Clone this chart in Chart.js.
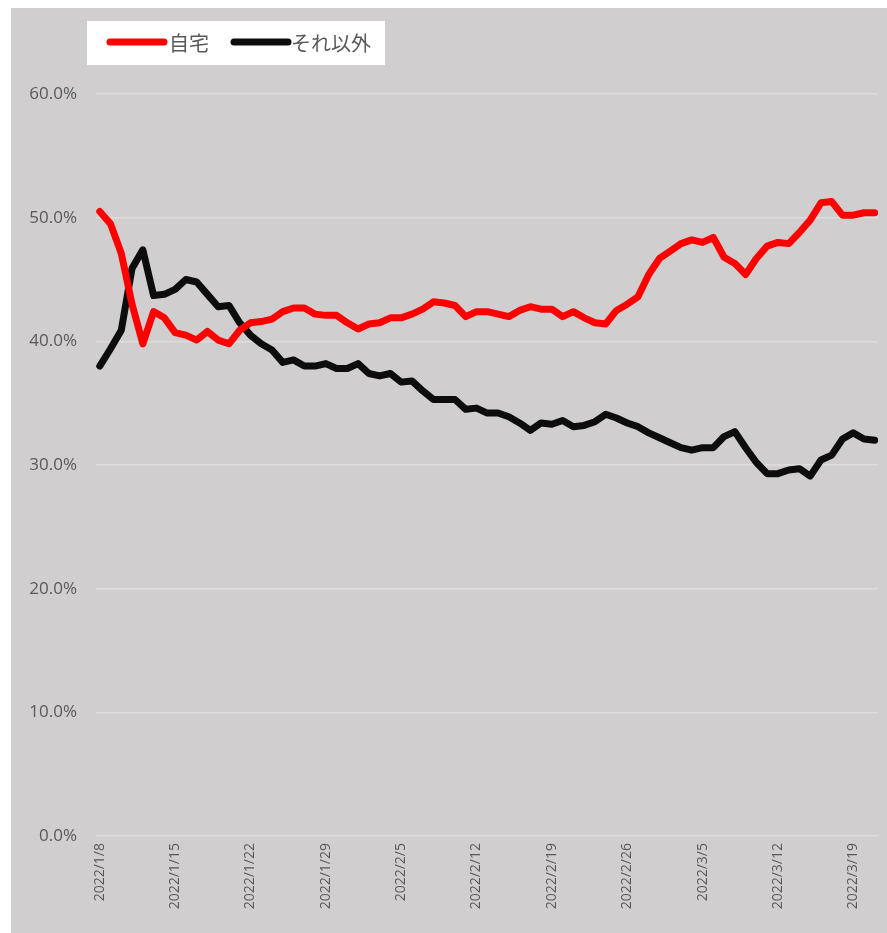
<!DOCTYPE html>
<html>
<head>
<meta charset="utf-8">
<script src="https://cdn.jsdelivr.net/npm/chart.js@4"></script>
<style>
  html, body { margin: 0; padding: 0; background: #ffffff; }
  #wrap { width: 887px; height: 933px; }
</style>
</head>
<body>
<div id="wrap"><canvas id="chart" width="887" height="933"></canvas></div>
<script>
const dates = [
  '2022/1/8','2022/1/9','2022/1/10','2022/1/11','2022/1/12','2022/1/13','2022/1/14',
  '2022/1/15','2022/1/16','2022/1/17','2022/1/18','2022/1/19','2022/1/20','2022/1/21',
  '2022/1/22','2022/1/23','2022/1/24','2022/1/25','2022/1/26','2022/1/27','2022/1/28',
  '2022/1/29','2022/1/30','2022/1/31','2022/2/1','2022/2/2','2022/2/3','2022/2/4',
  '2022/2/5','2022/2/6','2022/2/7','2022/2/8','2022/2/9','2022/2/10','2022/2/11',
  '2022/2/12','2022/2/13','2022/2/14','2022/2/15','2022/2/16','2022/2/17','2022/2/18',
  '2022/2/19','2022/2/20','2022/2/21','2022/2/22','2022/2/23','2022/2/24','2022/2/25',
  '2022/2/26','2022/2/27','2022/2/28','2022/3/1','2022/3/2','2022/3/3','2022/3/4',
  '2022/3/5','2022/3/6','2022/3/7','2022/3/8','2022/3/9','2022/3/10','2022/3/11',
  '2022/3/12','2022/3/13','2022/3/14','2022/3/15','2022/3/16','2022/3/17','2022/3/18',
  '2022/3/19','2022/3/20','2022/3/21'
];

// 自宅 (%)
const jitaku = [
  50.5, 49.5, 47.1, 43.0, 39.8, 42.4, 41.9, 40.7, 40.5, 40.1,
  40.8, 40.1, 39.8, 40.9, 41.5, 41.6, 41.8, 42.4, 42.7, 42.7,
  42.2, 42.1, 42.1, 41.5, 41.0, 41.4, 41.5, 41.9, 41.9, 42.2,
  42.6, 43.2, 43.1, 42.9, 42.0, 42.4, 42.4, 42.2, 42.0, 42.5,
  42.8, 42.6, 42.6, 42.0, 42.4, 41.9, 41.5, 41.4, 42.5, 43.0,
  43.6, 45.4, 46.7, 47.3, 47.9, 48.2, 48.0, 48.4, 46.8, 46.3,
  45.4, 46.7, 47.7, 48.0, 47.9, 48.8, 49.8, 51.2, 51.3, 50.2,
  50.2, 50.4, 50.4
];

// それ以外 (%)
const sorelgai = [
  38.0, 39.4, 40.9, 45.9, 47.4, 43.7, 43.8, 44.2, 45.0, 44.8,
  43.8, 42.8, 42.9, 41.5, 40.5, 39.8, 39.3, 38.3, 38.5, 38.0,
  38.0, 38.2, 37.8, 37.8, 38.2, 37.4, 37.2, 37.4, 36.7, 36.8,
  36.0, 35.3, 35.3, 35.3, 34.5, 34.6, 34.2, 34.2, 33.9, 33.4,
  32.8, 33.4, 33.3, 33.6, 33.1, 33.2, 33.5, 34.1, 33.8, 33.4,
  33.1, 32.6, 32.2, 31.8, 31.4, 31.2, 31.4, 31.4, 32.3, 32.7,
  31.4, 30.2, 29.3, 29.3, 29.6, 29.7, 29.1, 30.4, 30.8, 32.1,
  32.6, 32.1, 32.0
];

const seriesNames = ['自宅', 'それ以外'];
const seriesColors = ['#ff0000', '#0d0d0d'];

const textColor = '#595959';
const gridColor = '#dedcdc';
const bgGray = '#d0cece';

const toXY = arr => arr.map((v, i) => ({ x: i, y: v }));

const bgPlugin = {
  id: 'bgGray',
  beforeDraw(chart) {
    const ctx = chart.ctx;
    ctx.save();
    ctx.fillStyle = bgGray;
    ctx.fillRect(11, 8, chart.width - 11, chart.height - 8);
    ctx.restore();
  }
};

// white legend box in the top-left, like the original
const legendBoxPlugin = {
  id: 'legendBox',
  afterDraw(chart) {
    const ctx = chart.ctx;
    ctx.save();
    ctx.fillStyle = '#ffffff';
    ctx.fillRect(87, 21, 298, 44);
    const items = [
      { x1: 110, x2: 164, tx: 169 },
      { x1: 234, x2: 288, tx: 291 }
    ];
    ctx.lineCap = 'round';
    ctx.lineWidth = 7;
    ctx.font = '20px "Noto Sans CJK JP", "Noto Sans", sans-serif';
    ctx.textBaseline = 'middle';
    items.forEach((it, k) => {
      ctx.strokeStyle = seriesColors[k];
      ctx.beginPath();
      ctx.moveTo(it.x1, 42);
      ctx.lineTo(it.x2, 42);
      ctx.stroke();
      ctx.fillStyle = textColor;
      ctx.fillText(seriesNames[k], it.tx, 43);
    });
    ctx.restore();
  }
};

new Chart(document.getElementById('chart'), {
  type: 'line',
  data: {
    datasets: [
      { label: seriesNames[0], data: toXY(jitaku), borderColor: seriesColors[0], backgroundColor: seriesColors[0] },
      { label: seriesNames[1], data: toXY(sorelgai), borderColor: seriesColors[1], backgroundColor: seriesColors[1] }
    ]
  },
  options: {
    responsive: false,
    animation: false,
    layout: { padding: { left: 0, right: 9, top: 94, bottom: 0 } },
    elements: {
      line: { borderWidth: 7, tension: 0, borderCapStyle: 'round', borderJoinStyle: 'round' },
      point: { radius: 0, hoverRadius: 0 }
    },
    plugins: {
      legend: { display: false },
      tooltip: { enabled: false }
    },
    scales: {
      x: {
        type: 'linear',
        min: -0.35,
        max: 72.3,
        grid: { display: false, drawTicks: false },
        border: { display: false },
        afterBuildTicks(scale) {
          scale.ticks = dates.map((d, i) => ({ value: i })).filter(t => t.value % 7 === 0);
        },
        ticks: {
          autoSkip: false,
          minRotation: 90,
          maxRotation: 90,
          padding: 7,
          color: textColor,
          font: { family: '"Open Sans", "Noto Sans", sans-serif', size: 14 },
          callback: v => dates[v] || ''
        },
        afterFit(scale) {
          scale.height = 933 - 836;
          scale.paddingLeft = 0;
          scale.paddingRight = 0;
        }
      },
      y: {
        min: 0,
        max: 60,
        grid: { color: gridColor, lineWidth: 1.5, drawTicks: false },
        border: { display: false },
        ticks: {
          stepSize: 10,
          padding: 19,
          color: textColor,
          font: { family: '"Open Sans", "Noto Sans", sans-serif', size: 17 },
          callback: v => v.toFixed(1) + '%'
        },
        afterFit(scale) { scale.width = 96; }
      }
    }
  },
  plugins: [bgPlugin, legendBoxPlugin]
});
</script>
</body>
</html>
